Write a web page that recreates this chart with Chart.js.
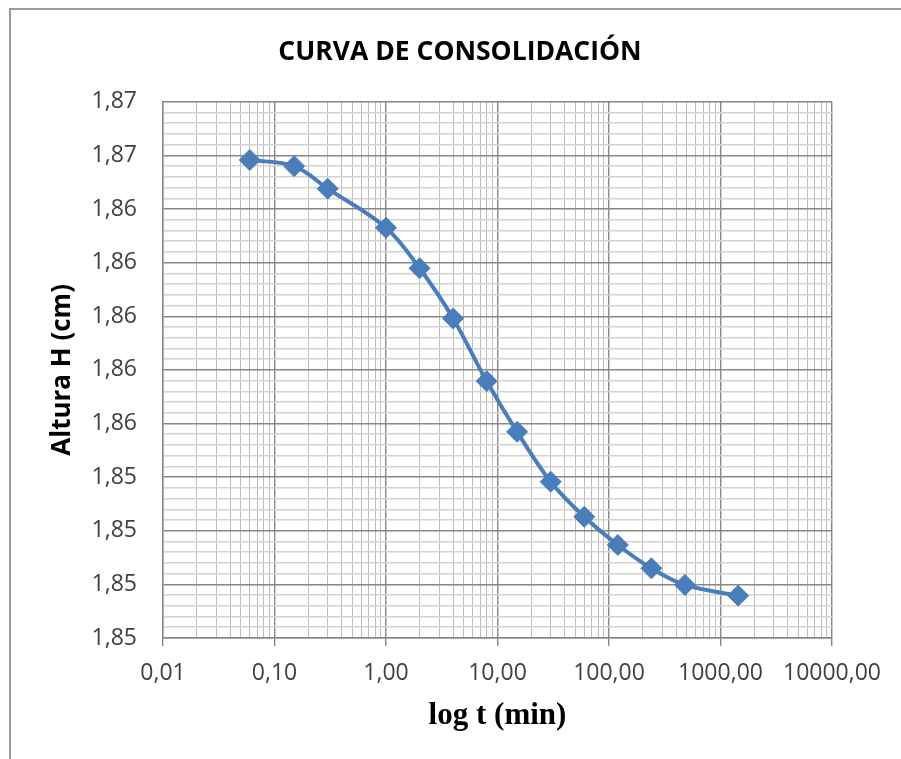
<!DOCTYPE html>
<html>
<head>
<meta charset="utf-8">
<script src="https://cdn.jsdelivr.net/npm/chart.js@4"></script>
<style>
  html, body { margin: 0; padding: 0; background: #ffffff; overflow: hidden; }
  #frame { position: absolute; left: 9px; top: 8px; width: 1000px; height: 1000px;
           border-left: 2px solid #9a9a9a; border-top: 2px solid #9a9a9a; }
  #c { position: absolute; left: 0; top: 0; }
</style>
</head>
<body>
<div id="frame"></div>
<canvas id="c" width="901" height="759"></canvas>
<script>
// ---- data ----
const timesMin = [0.06, 0.15, 0.3, 1, 2, 4, 8, 15, 30, 60, 120, 240, 480, 1440];
const heightsCm = [1.86583, 1.86560, 1.86476, 1.86330, 1.86179, 1.85992, 1.85758,
                   1.85569, 1.85383, 1.85252, 1.85147, 1.85060, 1.84998, 1.84958];

const xTickValues = [0.01, 0.1, 1, 10, 100, 1000, 10000];
const xTickLabels = ['0,01', '0,10', '1,00', '10,00', '100,00', '1000,00', '10000,00'];
const xMinorMultipliers = [2, 3, 4, 5, 6, 7, 8, 9];

const yTickValues = [1.848, 1.850, 1.852, 1.854, 1.856, 1.858, 1.860, 1.862, 1.864, 1.866, 1.868];
const yTickLabels = ['1,85', '1,85', '1,85', '1,85', '1,86', '1,86', '1,86', '1,86', '1,86', '1,87', '1,87'];
const yMinorDivisions = 5;

const chartTitle = 'CURVA DE CONSOLIDACIÓN';
const xTitle = 'log t (min)';
const yTitle = 'Altura H (cm)';

// ---- helpers ----
function findIndex(arr, v) {
  for (let i = 0; i < arr.length; i++) {
    if (Math.abs(arr[i] - v) <= Math.abs(arr[i]) * 1e-6 + 1e-9) return i;
  }
  return -1;
}

const blue = '#4a7ebb';
const majorGrid = '#878787';
const minorGridV = '#bcbcbc';
const minorGridH = '#d2d2d2';
const tickFont = { family: "'Open Sans', sans-serif", size: 23 };

const chart = new Chart(document.getElementById('c'), {
  type: 'line',
  data: {
    datasets: [{
      data: timesMin.map((t, i) => ({ x: t, y: heightsCm[i] })),
      borderColor: blue,
      backgroundColor: blue,
      borderWidth: 4,
      tension: 0.35,
      pointStyle: 'rectRot',
      pointRadius: 10.5,
      pointHoverRadius: 10.5,
      pointBackgroundColor: blue,
      pointBorderColor: blue,
      pointBorderWidth: 1,
      fill: false
    }]
  },
  options: {
    responsive: false,
    animation: false,
    events: [],
    layout: { padding: { left: 19, right: 0, top: 0, bottom: 0 } },
    plugins: {
      legend: { display: false },
      tooltip: { enabled: false },
      title: {
        display: true,
        text: chartTitle,
        color: '#000000',
        font: { family: "'Open Sans', sans-serif", size: 26.5, weight: 'bold', lineHeight: 1.2 },
        padding: { top: 37, bottom: 33 }
      }
    },
    scales: {
      x: {
        type: 'logarithmic',
        position: 'bottom',
        min: 0.01,
        max: 10000,
        afterBuildTicks: (scale) => {
          const ticks = [];
          xTickValues.forEach((v, i) => {
            ticks.push({ value: v, major: true });
            if (i < xTickValues.length - 1) {
              xMinorMultipliers.forEach(m => ticks.push({ value: v * m, major: false }));
            }
          });
          scale.ticks = ticks;
        },
        afterFit: (scale) => { scale.height = 121; },
        grid: {
          color: (ctx) => (ctx.tick && ctx.tick.major) ? majorGrid : minorGridV,
          lineWidth: (ctx) => (ctx.tick && ctx.tick.major) ? 1.4 : 1,
          drawTicks: true,
          tickLength: 8,
          tickColor: (ctx) => (ctx.tick && ctx.tick.major) ? majorGrid : 'rgba(0,0,0,0)',
          tickWidth: 1.4
        },
        border: { display: true, color: majorGrid, width: 1.4 },
        ticks: {
          autoSkip: false,
          maxRotation: 0,
          minRotation: 0,
          padding: 14,
          color: '#404040',
          font: tickFont,
          callback: (value) => {
            const i = findIndex(xTickValues, value);
            return i >= 0 ? xTickLabels[i] : '';
          }
        },
        title: {
          display: true,
          text: xTitle,
          color: '#000000',
          font: { family: "'Liberation Serif', 'Times New Roman', serif", size: 31, weight: 'bold', lineHeight: 1.2 },
          padding: { top: 0, bottom: 24 }
        }
      },
      y: {
        type: 'linear',
        position: 'left',
        min: yTickValues[0],
        max: yTickValues[yTickValues.length - 1],
        afterBuildTicks: (scale) => {
          const ticks = [];
          for (let i = 0; i < yTickValues.length; i++) {
            ticks.push({ value: yTickValues[i], major: true });
            if (i < yTickValues.length - 1) {
              const step = (yTickValues[i + 1] - yTickValues[i]) / yMinorDivisions;
              for (let k = 1; k < yMinorDivisions; k++) {
                ticks.push({ value: yTickValues[i] + k * step, major: false });
              }
            }
          }
          scale.ticks = ticks;
        },
        afterFit: (scale) => { scale.width = 144; },
        grid: {
          color: (ctx) => (ctx.tick && ctx.tick.major) ? majorGrid : minorGridH,
          lineWidth: (ctx) => (ctx.tick && ctx.tick.major) ? 1.4 : 1.6,
          drawTicks: false
        },
        border: { display: true, color: majorGrid, width: 1.4 },
        ticks: {
          autoSkip: false,
          padding: 26,
          color: '#404040',
          font: tickFont,
          callback: (value, index, ticks) => {
            if (!ticks[index] || !ticks[index].major) return '';
            const i = findIndex(yTickValues, value);
            return i >= 0 ? yTickLabels[i] : '';
          }
        },
        title: {
          display: true,
          text: yTitle,
          color: '#000000',
          font: { family: "'Open Sans', sans-serif", size: 26, weight: 'bold', lineHeight: 1.2 },
          padding: { top: 28, bottom: 0 }
        }
      },
      spacer: {
        type: 'linear',
        position: 'right',
        display: true,
        grid: { display: false, drawOnChartArea: false, drawTicks: false },
        border: { display: false },
        ticks: { display: false },
        afterFit: (scale) => { scale.width = 69; }
      }
    }
  }
});
</script>
</body>
</html>
